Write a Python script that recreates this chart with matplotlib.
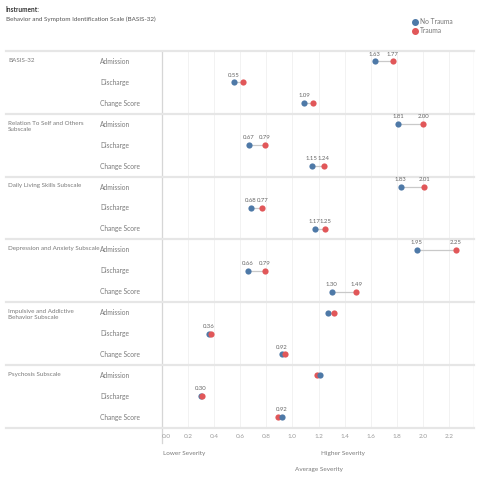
import matplotlib
matplotlib.use('Agg')
import matplotlib.pyplot as plt
from matplotlib.lines import Line2D

plt.rcParams['font.family'] = ['Lato', 'DejaVu Sans']

# ── Data ──────────────────────────────────────────────────────────────────────
sections = [
    'BASIS-32',
    'Relation To Self and Others\nSubscale',
    'Daily Living Skills Subscale',
    'Depression and Anxiety Subscale',
    'Impulsive and Addictive\nBehavior Subscale',
    'Psychosis Subscale',
]
measures = ['Admission', 'Discharge', 'Change Score']

no_trauma = [1.63, 0.55, 1.09,
             1.81, 0.67, 1.15,
             1.83, 0.68, 1.17,
             1.95, 0.66, 1.30,
             1.27, 0.36, 0.92,
             1.21, 0.30, 0.92]
trauma = [1.77, 0.62, 1.16,
          2.00, 0.79, 1.24,
          2.01, 0.77, 1.25,
          2.25, 0.79, 1.49,
          1.32, 0.38, 0.94,
          1.19, 0.31, 0.89]
# which value labels Tableau kept visible
show_no_trauma = [1, 1, 1, 1, 1, 1, 1, 1, 1, 1, 1, 1, 0, 1, 1, 0, 1, 1]
show_trauma = [1, 0, 0, 1, 1, 1, 1, 1, 1, 1, 1, 1, 0, 0, 0, 0, 0, 0]

x_ticks = [0.0, 0.2, 0.4, 0.6, 0.8, 1.0, 1.2, 1.4, 1.6, 1.8, 2.0, 2.2]

C_BLUE = '#4e79a7'
C_RED = '#e15759'
C_TEXT = '#7a7a7a'
C_LINE = '#e6e6e6'

W = H = 480.0
fig = plt.figure(figsize=(4.8, 4.8), dpi=100)
fig.patch.set_facecolor('white')

# plot area in pixels: x 161.7..474, y 51..427.7
ax = fig.add_axes([161.7 / W, 1 - 427.7 / H, (474 - 161.7) / W, (427.7 - 51) / H])
n_rows = len(no_trauma)
ax.set_xlim(0, 2.39)
ax.set_ylim(n_rows - 0.5, -0.5)
ax.set_xticks([])
ax.set_yticks([])
for s in ax.spines.values():
    s.set_visible(False)

# vertical grid
for t in x_ticks[1:]:
    ax.axvline(t, color='#f2f2f2', lw=0.7, zorder=0)
ax.axvline(2.39, color=C_LINE, lw=1.0, zorder=0)
# axis line (extends below plot)
ax.plot([0, 0], [-0.5, n_rows - 0.5 + 0.75], color='#d6d6d6', lw=0.9,
        clip_on=False, zorder=1)

# section separators (extend into label area)
x_left = (6 - 161.7) / (474 - 161.7)
for k in range(len(sections) + 1):
    ax.axhline(k * 3 - 0.5, xmin=x_left, xmax=1, color=C_LINE, lw=1.6,
               clip_on=False, zorder=1)

# dumbbells
for i in range(n_rows):
    a, b = no_trauma[i], trauma[i]
    ax.plot([a, b], [i, i], color='#c9c9c9', lw=0.9, zorder=2)
    za, zb = (4, 3) if a > b else (3, 4)
    ax.scatter([a], [i], s=20, color=C_BLUE, zorder=za, linewidths=0)
    ax.scatter([b], [i], s=20, color=C_RED, zorder=zb, linewidths=0)
    if show_no_trauma[i]:
        ax.annotate(f'{a:.2f}', (a, i), xytext=(0, 3.5), textcoords='offset points',
                    ha='center', va='bottom', fontsize=4.3, color='#666666')
    if show_trauma[i]:
        ax.annotate(f'{b:.2f}', (b, i), xytext=(0, 3.5), textcoords='offset points',
                    ha='center', va='bottom', fontsize=4.3, color='#666666')

# left labels
x_sec = (8 - 161.7) / (474 - 161.7)
x_meas = (100 - 161.7) / (474 - 161.7)
tr = ax.get_yaxis_transform()
for k, name in enumerate(sections):
    ax.text(x_sec, k * 3 - 0.17, name, transform=tr, ha='left', va='top',
            fontsize=4.5, color=C_TEXT, linespacing=1.35)
    for j, m in enumerate(measures):
        ax.text(x_meas, k * 3 + j, m, transform=tr, ha='left', va='center',
                fontsize=4.8, color=C_TEXT)

# tick labels
for t in x_ticks:
    ax.text(t, n_rows - 0.5 + 0.4, f'{t:.1f}', ha='left' if t == 0 else 'center',
            va='center', fontsize=4.6, color='#9a9a9a', clip_on=False)

# header
fig.text(5 / W, 1 - 10 / H, 'Instrument:', ha='left', va='center',
         fontsize=4.7, color='#333333', fontweight='bold')
fig.text(6 / W, 1 - 19 / H, 'Behavior and Symptom Identification Scale (BASIS-32)',
         ha='left', va='center', fontsize=4.5, color='#555555')

# legend
leg_items = [Line2D([], [], marker='o', ls='', color=C_BLUE, markersize=4, label='No Trauma'),
             Line2D([], [], marker='o', ls='', color=C_RED, markersize=4, label='Trauma')]
fig.legend(handles=leg_items, loc='upper left', bbox_to_anchor=(411 / W, 1 - 18 / H),
           frameon=False, fontsize=4.8, handletextpad=0.1, labelspacing=0.35,
           borderpad=0, borderaxespad=0, handlelength=1.2, labelcolor='#777777')

# footer
fig.text(163 / W, 1 - 453 / H, 'Lower Severity', ha='left', va='center',
         fontsize=4.6, color=C_TEXT)
fig.text(321 / W, 1 - 453 / H, 'Higher Severity', ha='left', va='center',
         fontsize=4.6, color=C_TEXT)
fig.text(295 / W, 1 - 469 / H, 'Average Severity', ha='left', va='center',
         fontsize=4.6, color=C_TEXT)

fig.savefig('out.png', dpi=100, facecolor='white')
